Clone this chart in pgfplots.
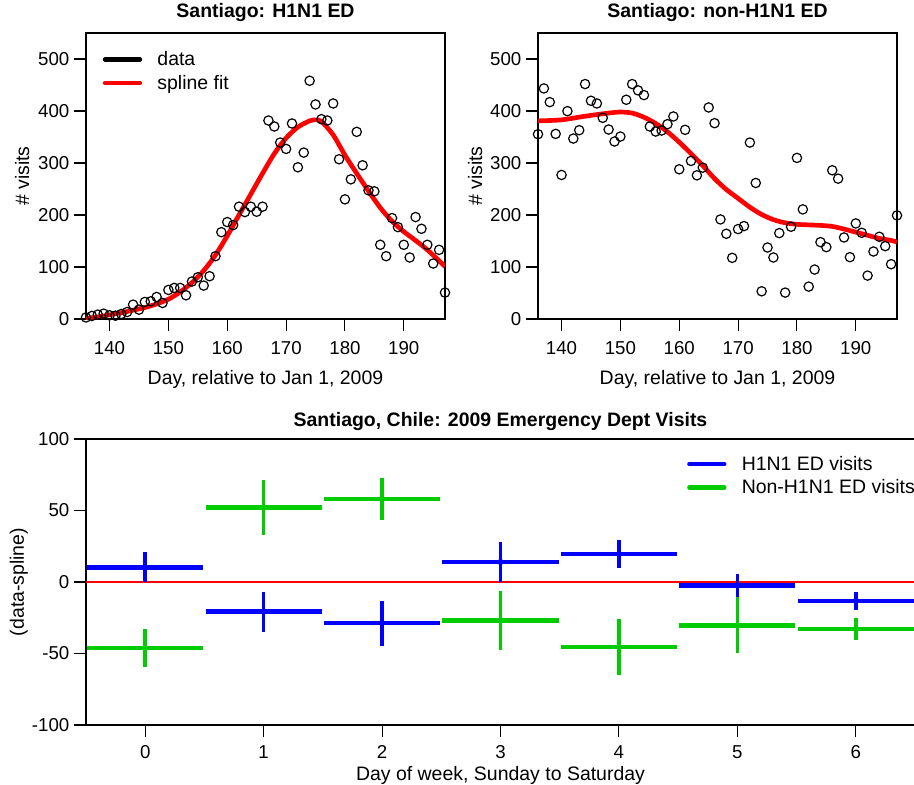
\documentclass[border=0pt]{standalone}
\usepackage{fontspec}
\setmainfont{Liberation Sans}
\usepackage{pgfplots}
\pgfplotsset{compat=1.18}
\definecolor{fitred}{RGB}{255,0,0}
\definecolor{h1blue}{RGB}{0,0,255}
\definecolor{nongreen}{RGB}{0,204,0}

% 1 px of the reference = 0.75pt
\pgfplotsset{
  panel/.style={
    scale only axis,
    axis line style={line width=0.8pt},
    tick align=outside,
    tick pos=left,
    major tick length=9pt,
    tick style={black, line width=0.8pt},
    /pgf/number format/assume math mode=true,
    tick label style={font=\fontsize{14}{16}\selectfont},
    xticklabel style={yshift=-4pt},
    label style={font=\fontsize{14.6}{17}\selectfont},
    title style={font=\fontsize{14.6}{17}\selectfont\bfseries, at={(0.5,1)}, anchor=base, yshift=5.5pt},
    legend style={draw=none, fill=none, font=\fontsize{14.6}{17}\selectfont,
      nodes={inner xsep=6pt}, row sep=1.5pt},
    legend cell align=left,
    legend image code/.code={
      \draw[#1, line width=3.5pt, line cap=round] (0pt,0pt) -- (26pt,0pt);
      \path (33pt,0pt);},
  },
  dots/.style={only marks, mark=o, mark size=3.5pt, mark options={black, line width=0.9pt}, forget plot},
  fit/.style={fitred, line width=3.5pt, smooth, forget plot},
}

\begin{document}
\begin{tikzpicture}

% ---- top left: H1N1 ----
\begin{axis}[panel,
  at={(64.5pt,-239.25pt)}, anchor=south west,
  width=269.25pt, height=214.5pt,
  xmin=136, xmax=197, ymin=0, ymax=550,
  xtick={140,150,...,190}, ytick={0,100,...,500},
  title={Santiago: H1N1 ED},
  xlabel={Day, relative to Jan 1, 2009},
  ylabel={\# visits},
  xlabel style={at={(axis description cs:0.5,-0.21)}, anchor=center},
  ylabel style={at={(axis description cs:-0.178,0.5)}, anchor=center},
  legend style={at={(0.035,0.955)}, anchor=north west},
]
\addplot[dots] coordinates {
 (136,3) (137,5.8) (138,8.4) (139,10.3) (140,7.1) (141,6.4) (142,9.6) (143,13.5)
 (144,27.6) (145,18) (146,32.8) (147,34) (148,42.4) (149,30.8) (150,55.9)
 (151,59.8) (152,59.8) (153,45.6) (154,72) (155,80.3) (156,64.3) (157,82.3)
 (158,120.8) (159,167) (160,186.4) (161,180.6) (162,216) (163,205.7) (164,216)
 (165,206.3) (166,216) (167,381.7) (168,370.2) (169,339.3) (170,327.1) (171,376)
 (172,291.8) (173,320) (174,458.2) (175,412.6) (176,384.3) (177,381.7) (178,414.5)
 (179,307.2) (180,230.1) (181,268.6) (182,359.9) (183,295.6) (184,247.4) (185,245.5)
 (186,142.7) (187,120.8) (188,194.1) (189,176.7) (190,142.7) (191,118.3) (192,196)
 (193,173.5) (194,142.7) (195,106.7) (196,133) (197,50.8)
};
\addplot[fit] coordinates {
 (136,1) (138,4) (140,8) (142,12) (144,17) (146,22) (148,29) (150,38) (152,52)
 (154,70) (156,93) (158,123) (160,160) (162,200) (164,240) (166,280) (168,318)
 (170,348) (172,369) (174,381) (175,383) (176,380) (178,354) (180,315) (182,280)
 (184,246) (186,214) (188,188) (190,168) (192,151) (194,133) (196,112) (197,101)
};
\addlegendimage{black}
\addlegendentry{data}
\addlegendimage{fitred}
\addlegendentry{spline fit}
\end{axis}

% ---- top right: non-H1N1 ----
\begin{axis}[panel,
  at={(403.5pt,-239.25pt)}, anchor=south west,
  width=269.25pt, height=214.5pt,
  xmin=136, xmax=197, ymin=0, ymax=550,
  xtick={140,150,...,190}, ytick={0,100,...,500},
  title={Santiago: non-H1N1 ED},
  xlabel={Day, relative to Jan 1, 2009},
  ylabel={\# visits},
  xlabel style={at={(axis description cs:0.5,-0.21)}, anchor=center},
  ylabel style={at={(axis description cs:-0.175,0.5)}, anchor=center},
]
\addplot[dots] coordinates {
 (136,355.4) (137,443.4) (138,417.1) (139,356) (140,277) (141,399.7) (142,347)
 (143,363.1) (144,451.8) (145,419.7) (146,414.5) (147,386.9) (148,364.4) (149,341.3)
 (150,350.9) (151,421.6) (152,451.8) (153,439.6) (154,430.6) (155,370.2) (156,360.5)
 (157,362.5) (158,374.7) (159,389.5) (160,287.9) (161,363.8) (162,304) (163,276.3)
 (164,291.1) (165,406.8) (166,376.6) (167,191.5) (168,163.9) (169,117.6) (170,172.9)
 (171,178.7) (172,339.3) (173,261.6) (174,53.3) (175,137.5) (176,118.3) (177,165.2)
 (178,50.8) (179,177.4) (180,309.8) (181,210.8) (182,62.3) (183,95.1) (184,147.8)
 (185,138.2) (186,286) (187,269.9) (188,156.8) (189,118.9) (190,183.8) (191,165.8)
 (192,83.5) (193,129.8) (194,158.1) (195,140.1) (196,105.4) (197,199.2)
};
\addplot[fit] coordinates {
 (136,381) (140,383) (144,390) (148,396) (150,398) (152,396) (154,388) (156,376)
 (158,360) (160,340) (162,318) (164,295) (166,270) (168,249) (170,232) (172,215)
 (174,201) (176,191) (178,185) (180,182) (182,181) (184,180) (186,178) (188,173)
 (190,167) (192,161) (194,155) (196,151) (197,148)
};
\end{axis}

% ---- bottom: weekday residuals ----
\pgfplotstableread{
day  h1   h1err  non    nonerr
0    10.3 10.4   -46.2  13.4
1   -20.7 14.0    52.0  19.4
2   -28.7 15.7    58.0  14.5
3    14.0 14.0   -27.0  20.7
4    19.6  9.7   -45.5  19.4
5    -2.3  8.2   -30.3  19.6
6   -13.3  6.6   -32.9   7.9
}\weekdata
\begin{axis}[panel,
  at={(64.5pt,-543.75pt)}, anchor=south west,
  width=621.75pt, height=214.5pt,
  xmin=-0.5, xmax=6.5, ymin=-100, ymax=100,
  xtick={0,...,6}, ytick={-100,-50,0,50,100},
  title={Santiago, Chile: 2009 Emergency Dept Visits},
  title style={yshift=-2pt},
  xlabel={Day of week, Sunday to Saturday},
  ylabel={(data-spline)},
  xticklabel style={yshift=1pt},
  xlabel style={at={(axis description cs:0.5,-0.176)}, anchor=center},
  ylabel style={at={(axis description cs:-0.081,0.5)}, anchor=center},
  legend style={at={(0.72,0.96)}, anchor=north west},
]
\addplot[fitred, line width=0.8pt, forget plot] coordinates {(-0.5,0) (6.5,0)};
% horizontal bars (one day wide)
\addplot[h1blue, only marks, mark=none, forget plot,
  error bars/.cd, x dir=both, x fixed=0.49, error mark=none,
  error bar style={line width=3.4pt}] table[x=day, y=h1] {\weekdata};
\addplot[nongreen, only marks, mark=none, forget plot,
  error bars/.cd, x dir=both, x fixed=0.49, error mark=none,
  error bar style={line width=3.4pt}] table[x=day, y=non] {\weekdata};
% vertical error bars
\addplot[h1blue, only marks, mark=none, forget plot,
  error bars/.cd, y dir=both, y explicit, error mark=none,
  error bar style={line width=2.6pt}] table[x=day, y=h1, y error=h1err] {\weekdata};
\addplot[nongreen, only marks, mark=none, forget plot,
  error bars/.cd, y dir=both, y explicit, error mark=none,
  error bar style={line width=2.6pt}] table[x=day, y=non, y error=nonerr] {\weekdata};
\addlegendimage{h1blue}
\addlegendentry{H1N1 ED visits}
\addlegendimage{nongreen}
\addlegendentry{Non-H1N1 ED visits}
\end{axis}

\pgfresetboundingbox
\useasboundingbox (0,0) rectangle (685.5pt,-588.75pt);
\end{tikzpicture}
\end{document}
